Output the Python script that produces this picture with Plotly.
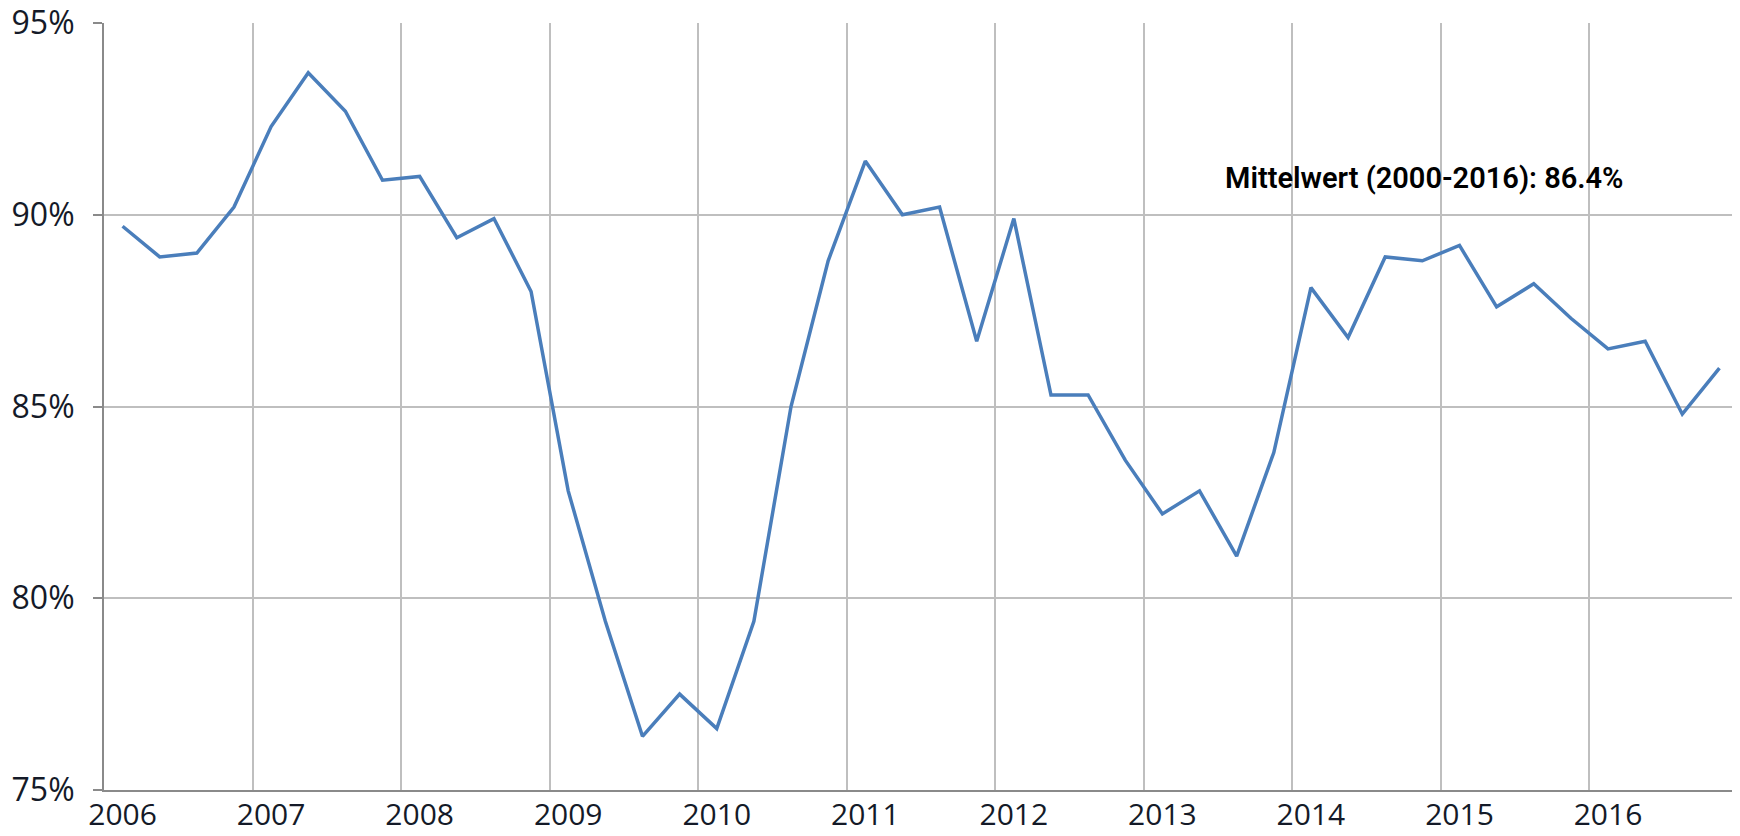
import plotly.graph_objects as go

# quarterly values 2006 Q1 .. 2016 Q4 (percent)
years = list(range(2006, 2017))
quarter_offsets = [0.125, 0.375, 0.625, 0.875]
values = [
    89.7, 88.9, 89.0, 90.2,   # 2006
    92.3, 93.7, 92.7, 90.9,   # 2007
    91.0, 89.4, 89.9, 88.0,   # 2008
    82.8, 79.4, 76.4, 77.5,   # 2009
    76.6, 79.4, 85.0, 88.8,   # 2010
    91.4, 90.0, 90.2, 86.7,   # 2011
    89.9, 85.3, 85.3, 83.6,   # 2012
    82.2, 82.8, 81.1, 83.8,   # 2013
    88.1, 86.8, 88.9, 88.8,   # 2014
    89.2, 87.6, 88.2, 87.3,   # 2015
    86.5, 86.7, 84.8, 86.0,   # 2016
]
x_pos = [y + q for y in years for q in quarter_offsets]

y_ticks = [75, 80, 85, 90, 95]
mean_label = "Mittelwert (2000-2016): 86.4%"

text_color = "#141a28"
grid_color = "#bfbfbf"
axis_color = "#8a8a8a"
line_color = "#4a7ebb"

fig = go.Figure()
fig.add_trace(go.Scatter(
    x=x_pos, y=values,
    mode="lines",
    line=dict(color=line_color, width=3.5),
    showlegend=False,
))

# page body has an 8px margin, so the figure is sized to fit the window
fig.update_layout(
    width=1732, height=828,
    margin=dict(l=96, r=2, t=15, b=46),
    paper_bgcolor="white",
    plot_bgcolor="white",
    font=dict(family="Open Sans", color=text_color, size=31),
    xaxis=dict(
        range=[2006, 2017],
        # labels sit under the first quarter, gridlines at year boundaries
        tickvals=[y + 0.125 for y in years],
        ticktext=[str(y) for y in years],
        showgrid=False, ticks="", zeroline=False,
        minor=dict(tickvals=years + [2017], showgrid=True,
                   gridcolor=grid_color, gridwidth=1.5, ticks=""),
        showline=True, linecolor=axis_color, linewidth=2,
        automargin=False, ticklabeloverflow="allow",
        ticklabelstandoff=-3,
        tickfont=dict(size=30, color=text_color, family="Open Sans"),
    ),
    yaxis=dict(
        range=[75, 95],
        tickvals=y_ticks,
        ticktext=[f"{v}%" for v in y_ticks],
        showgrid=True, gridcolor=grid_color, gridwidth=1.5,
        showline=True, linecolor=axis_color, linewidth=2,
        ticks="outside", ticklen=9, tickcolor=axis_color, tickwidth=2,
        ticklabelstandoff=12,
        zeroline=False, automargin=False, ticklabeloverflow="allow",
        tickfont=dict(size=32, color=text_color, family="Open Sans"),
    ),
    annotations=[dict(
        text=mean_label,
        xref="paper", yref="paper",
        x=0.808, y=0.798,
        xanchor="center", yanchor="middle",
        showarrow=False,
        font=dict(family="Roboto", size=29, color="#000000", weight=600),
    )],
)

fig.write_html("out.html")
